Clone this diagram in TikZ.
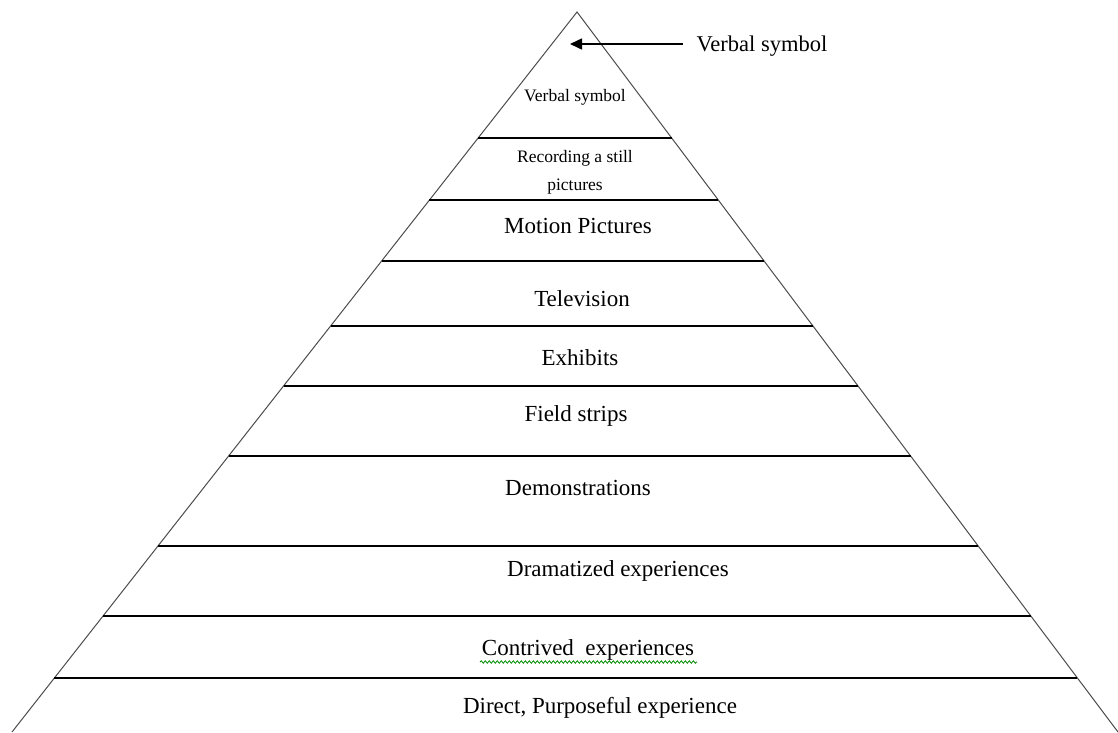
\documentclass[tikz,border=0pt]{standalone}
\usepackage{fontspec}
\setmainfont{Liberation Serif}
\usetikzlibrary{calc,arrows.meta,decorations.pathmorphing}
\tikzset{
  side/.style={draw=black!70, line width=1pt},
  level/.style={draw=black, line width=1.4pt},
  lbl/.style={inner sep=0pt, font=\fontsize{23}{26}\selectfont, align=center},
  small/.style={inner sep=0pt, font=\fontsize{17.5}{28}\selectfont, align=center},
  callout/.style={inner sep=0pt, font=\fontsize{22.5}{26}\selectfont},
  pointer/.style={draw=black, line width=1.5pt, -{Triangle[length=12pt,width=11pt]}},
  squiggle/.style={draw=green!55!black, line width=0.8pt, decorate, decoration={snake, amplitude=1.2pt, segment length=4pt}}
}
\begin{document}
\begin{tikzpicture}[x=1pt,y=-1pt]
\useasboundingbox[fill=white] (0,0) rectangle (1118,732);
\coordinate (apex) at (577,12);
\coordinate (bl) at (12,732);
\coordinate (br) at (1118,732);
\draw[side] (bl) -- (apex) -- (br);
\foreach \t in {0.175,0.2611,0.3458,0.4361,0.5194,0.6167,0.7417,0.8389,0.925}
  \draw[level] ($(apex)!\t!(bl)$) -- ($(apex)!\t!(br)$);
% callout
\node[callout] (vs) at (762,46) {Verbal symbol};
\coordinate (tip) at (570,44);
\draw[pointer] (683,44) -- (tip);
% level labels
\node[small] (l1) at (575,97) {Verbal symbol};
\node[small] (l2) at (575,172) {Recording a still\\pictures};
\node[lbl] (l3) at (578,226) {Motion Pictures};
\node[lbl] (l4) at (582,299) {Television};
\node[lbl] (l5) at (580,358) {Exhibits};
\node[lbl] (l6) at (576,416) {Field strips};
\node[lbl] (l7) at (578,488) {Demonstrations};
\node[lbl] (l8) at (618,571) {Dramatized experiences};
\node[lbl] (l9) at (588,650) {Contrived\ \ experiences};
\draw[squiggle] (480,662) -- (697,662);
\node[lbl] (l10) at (600,708) {Direct, Purposeful experience};
\end{tikzpicture}
\end{document}
